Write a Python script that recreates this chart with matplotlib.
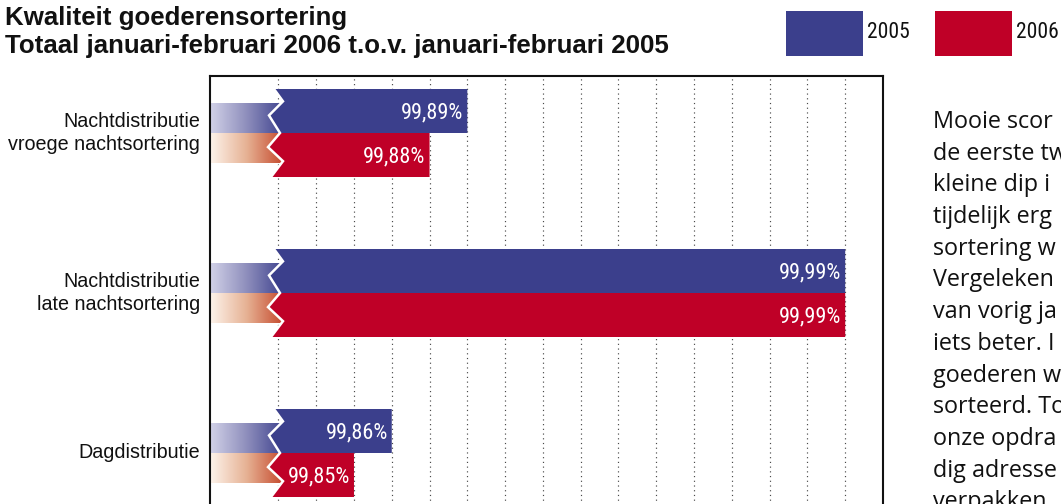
import numpy as np
import matplotlib
matplotlib.use("Agg")
import matplotlib.pyplot as plt
from matplotlib.patches import Polygon, Rectangle
from matplotlib.colors import LinearSegmentedColormap
import matplotlib.transforms as mtransforms

# ---------------- data ----------------
title_lines = ["Kwaliteit goederensortering",
               "Totaal januari-februari 2006 t.o.v. januari-februari 2005"]
categories = ["Nachtdistributie\nvroege nachtsortering",
              "Nachtdistributie\nlate nachtsortering",
              "Dagdistributie"]
series_names = ["2005", "2006"]
# bar lengths as drawn in the picture (axis units, %)
bars_2005 = [99.89, 99.99, 99.87]
bars_2006 = [99.88, 99.99, 99.86]
# printed value labels
labels_2005 = ["99,89%", "99,99%", "99,86%"]
labels_2006 = ["99,88%", "99,99%", "99,85%"]
grid_values = [99.84, 99.85, 99.86, 99.87, 99.88, 99.89, 99.90, 99.91,
               99.92, 99.93, 99.94, 99.95, 99.96, 99.97, 99.98, 99.99]
note_lines = ["Mooie scor", "de eerste tw", "kleine dip i", "tijdelijk erg",
              "sortering w", "Vergeleken", "van vorig ja", "iets beter. I",
              "goederen w", "sorteerd. To", "onze opdra", "dig adresse",
              "verpakken"]

# ---------------- style ----------------
BLUE = "#3b3f8c"
RED = "#bf0027"
COND = ["Roboto Condensed", "DejaVu Sans"]
SANS = ["Liberation Sans", "DejaVu Sans"]
W, H = 1061, 504

fig = plt.figure(figsize=(W / 100, H / 100), dpi=100)
ax = fig.add_axes([210 / W, 1 - 540 / H, 673 / W, 464 / H])
XMIN, XMAX = 99.8219, 100.0
YTOP, YBOT = -0.35625, 2.54375
ax.set_xlim(XMIN, XMAX)
ax.set_ylim(YBOT, YTOP)
dx = (XMAX - XMIN) / 673.0
dy = (YBOT - YTOP) / 464.0

for s in ["left", "top", "right"]:
    ax.spines[s].set_linewidth(1.5)
    ax.spines[s].set_color("#111111")
ax.spines["bottom"].set_visible(False)
ax.set_xticks([])
ax.set_yticks([])

for g in grid_values:
    ax.axvline(g, color="#4a4a4a", lw=0.85, ls=(0, (1, 3)), zorder=0)

base = XMIN + 62 * dx          # axis break position (zig-zag)
zig = [(0.0, 2), (0.14, 11), (0.30, -3), (0.5, 8), (0.66, -4), (0.82, 11), (1.0, -1)]

cmap_blue = LinearSegmentedColormap.from_list("b", ["#d2d2e8", "#8e8ebc", "#3e428e"])
cmap_red = LinearSegmentedColormap.from_list("r", ["#fdf4ec", "#e6b193", "#c4472b"])
grad = np.linspace(0, 1, 256).reshape(1, -1)

lab_tr = mtransforms.blended_transform_factory(ax.transAxes, ax.transData)

for i, cat in enumerate(categories):
    c = i
    top = c - 44 * dy
    bot = c + 44 * dy
    pts = [(base + off * dx, top + f * (bot - top)) for f, off in zig]

    # fading boxes left of the break
    ax.imshow(grad, cmap=cmap_blue, aspect="auto", interpolation="bilinear",
              extent=[XMIN, base + 12 * dx, c, c - 30 * dy], zorder=1)
    ax.imshow(grad, cmap=cmap_red, aspect="auto", interpolation="bilinear",
              extent=[XMIN, base + 12 * dx, c + 30 * dy, c], zorder=1)

    eb = bars_2005[i]
    er = bars_2006[i]
    blue_poly = [p for (f, _), p in zip(zig, pts) if f <= 0.5] + [(eb, c), (eb, top)]
    red_poly = [p for (f, _), p in zip(zig, pts) if f >= 0.5] + [(er, bot), (er, c)]
    ax.add_patch(Polygon(blue_poly, closed=True, facecolor=BLUE, edgecolor="none", zorder=2))
    ax.add_patch(Polygon(red_poly, closed=True, facecolor=RED, edgecolor="none", zorder=2))
    zx, zy = zip(*pts)
    ax.plot(zx, zy, color="white", lw=1.8, zorder=3, solid_joinstyle="miter")

    ax.text(eb - 4 * dx, c - 22 * dy + 1.5 * dy, labels_2005[i], color="white",
            ha="right", va="center", fontsize=16, family=COND, zorder=4)
    ax.text(er - 4 * dx, c + 22 * dy + 1.5 * dy, labels_2006[i], color="white",
            ha="right", va="center", fontsize=16, family=COND, zorder=4)

    ax.text(-10 / 673, c, cat, transform=lab_tr, ha="right", va="center",
            multialignment="right", fontsize=14.2, family=SANS, linespacing=1.3,
            color="#111111")

# title (two lines, baselines from the picture)
for k, line in enumerate(title_lines):
    fig.text(5 / W, 1 - (25 + 28 * k) / H, line, ha="left", va="baseline",
             fontsize=18.6, weight="bold", family=SANS, color="#111111")

# legend
for x0, col, name in [(786, BLUE, series_names[0]), (935, RED, series_names[1])]:
    fig.add_artist(Rectangle((x0 / W, 1 - 56 / H), 77 / W, 45 / H,
                             transform=fig.transFigure, facecolor=col, edgecolor="none"))
    fig.text((x0 + 81) / W, 1 - 33 / H, name, ha="left", va="center",
             fontsize=15.5, family=COND, color="#111111")

# side note (cut off by the page edge)
for k, line in enumerate(note_lines):
    fig.text(933 / W, 1 - (128 + 31.7 * k) / H, line, ha="left", va="baseline",
             fontsize=16.8, family=["Open Sans", "DejaVu Sans"], color="#111111")

fig.savefig("out.png", dpi=100)
